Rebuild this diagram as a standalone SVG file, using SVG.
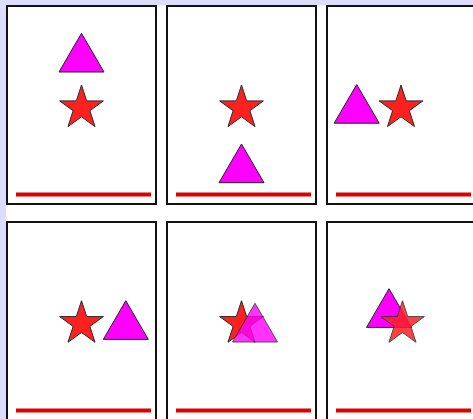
<svg xmlns="http://www.w3.org/2000/svg" xmlns:xlink="http://www.w3.org/1999/xlink" width="473" height="419" viewBox="0 0 473 419">
<style>
.panel{fill:#ffffff;stroke:#111111;stroke-width:2}
.floor{stroke:#e00000;stroke-width:4}
.star{fill:#ff2020;stroke:#2a2a2a;stroke-width:1}
.tri{fill:#ff00ff;stroke:#222222;stroke-width:1}
</style>
<defs>
<path id="starShape" d="M0,-23 L5.17,-7.11 L21.87,-7.11 L8.36,2.72 L13.52,18.61 L0,8.79 L-13.52,18.61 L-8.36,2.72 L-21.87,-7.11 L-5.17,-7.11 Z"/>
<path id="triShape" d="M0,0 L22.5,38.7 L-22.5,38.7 Z"/>
</defs>
<rect x="0" y="0" width="473" height="419" fill="#ffffff"/>
<rect x="0" y="0" width="473" height="5" fill="#dcdcfc"/>
<rect x="0" y="0" width="6" height="419" fill="#dcdcfc"/>
<g id="panel1">
<rect class="panel" x="7" y="6" width="149" height="198"/>
<line class="floor" x1="16" y1="194.5" x2="151" y2="194.5"/>
<use href="#triShape" class="tri" x="81.5" y="33.3"/>
<use href="#starShape" class="star" x="81.5" y="108"/>
</g>
<g id="panel2">
<rect class="panel" x="167" y="6" width="149" height="198"/>
<line class="floor" x1="176" y1="194.5" x2="311" y2="194.5"/>
<use href="#starShape" class="star" x="241.5" y="108"/>
<use href="#triShape" class="tri" x="241.5" y="144"/>
</g>
<g id="panel3">
<rect class="panel" x="327" y="6" width="149" height="198"/>
<line class="floor" x1="336" y1="194.5" x2="471" y2="194.5"/>
<use href="#triShape" class="tri" x="356.7" y="84.5"/>
<use href="#starShape" class="star" x="401" y="108"/>
</g>
<g id="panel4">
<rect class="panel" x="7" y="222" width="149" height="198"/>
<line class="floor" x1="16" y1="410.5" x2="151" y2="410.5"/>
<use href="#starShape" class="star" x="81.5" y="323.7"/>
<use href="#triShape" class="tri" x="125.8" y="300.7"/>
</g>
<g id="panel5">
<rect class="panel" x="167" y="222" width="149" height="198"/>
<line class="floor" x1="176" y1="410.5" x2="311" y2="410.5"/>
<use href="#starShape" class="star" x="241.5" y="323.7"/>
<use href="#triShape" class="tri" x="255" y="303.3" opacity="0.8"/>
</g>
<g id="panel6">
<rect class="panel" x="327" y="222" width="149" height="198"/>
<line class="floor" x1="336" y1="410.5" x2="471" y2="410.5"/>
<use href="#triShape" class="tri" x="389" y="288.7"/>
<use href="#starShape" class="star" x="402.5" y="323.7" opacity="0.85"/>
</g>
<g id="connectors"/>
</svg>
